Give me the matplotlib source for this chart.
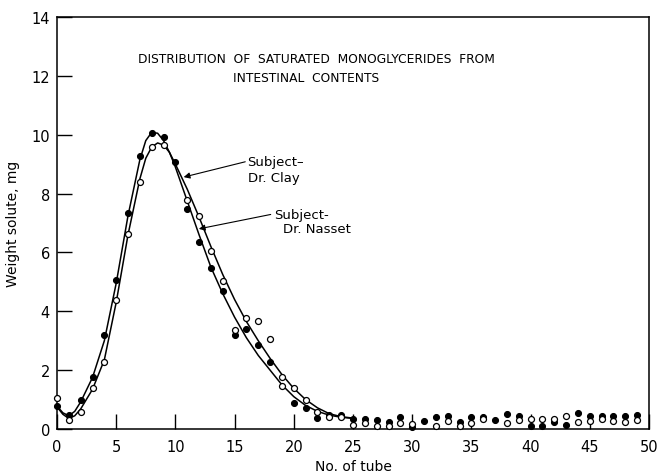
import matplotlib
matplotlib.use("Agg")
import matplotlib.pyplot as plt

# tube numbers and weights (mg)
# filled circles - Dr. Nasset
nasset_tube = [0, 1, 2, 3, 4, 5, 6, 7, 8, 9, 10, 11, 12, 13, 14, 15, 16, 17, 18,
               20, 21, 22, 23, 24, 25, 26, 27, 28, 29, 30, 31, 32, 33, 34, 35,
               36, 37, 38, 39, 40, 41, 42, 43, 44, 45, 46, 47, 48, 49]
nasset_wt = [0.79, 0.47, 0.99, 1.77, 3.19, 5.06, 7.34, 9.27, 10.05, 9.91, 9.06,
             7.48, 6.37, 5.46, 4.69, 3.19, 3.40, 2.86, 2.28,
             0.90, 0.70, 0.36, 0.47, 0.47, 0.34, 0.33, 0.31, 0.23, 0.42, 0.06,
             0.28, 0.40, 0.43, 0.23, 0.42, 0.42, 0.31, 0.51, 0.43, 0.11, 0.11,
             0.25, 0.14, 0.54, 0.43, 0.45, 0.45, 0.45, 0.47]

# open circles - Dr. Clay
clay_tube = [0, 1, 2, 3, 4, 5, 6, 7, 8, 9, 11, 12, 13, 14, 15, 16, 17, 18, 19, 19,
             20, 21, 22, 23, 24, 25, 26, 27, 28, 29, 30, 32, 33, 34, 35, 36,
             38, 39, 40, 41, 42, 43, 44, 45, 46, 47, 48, 49]
clay_wt = [1.07, 0.32, 0.59, 1.41, 2.29, 4.37, 6.63, 8.40, 9.57, 9.65, 7.77,
           7.25, 6.05, 5.03, 3.36, 3.76, 3.67, 3.07, 1.77, 1.47,
           1.39, 0.99, 0.59, 0.40, 0.42, 0.15, 0.19, 0.09, 0.10, 0.20, 0.17,
           0.11, 0.28, 0.11, 0.19, 0.34, 0.20, 0.32, 0.34, 0.34, 0.34, 0.45,
           0.23, 0.28, 0.34, 0.26, 0.25, 0.32]

# hand drawn curves, read at knots
curve_x = [0, 0.5, 1, 1.5, 2, 3, 4, 5, 6, 7, 7.5, 8, 8.5, 9, 9.5, 10, 11, 12,
           13, 14, 15, 16, 17, 18, 19, 20, 21, 22, 23, 24, 25]
nasset_curve = [0.78, 0.55, 0.45, 0.6, 0.92, 1.75, 3.0, 4.95, 7.25, 9.15, 9.8,
                10.08, 10.05, 9.8, 9.4, 8.9, 7.75, 6.6, 5.5, 4.6, 3.8, 3.1, 2.5,
                2.0, 1.5, 1.1, 0.8, 0.6, 0.47, 0.4, 0.36]
clay_curve = [0.75, 0.5, 0.36, 0.45, 0.68, 1.35, 2.35, 4.3, 6.6, 8.5, 9.2, 9.58,
              9.72, 9.65, 9.4, 9.0, 8.15, 7.2, 6.2, 5.25, 4.4, 3.65, 3.0, 2.4,
              1.85, 1.38, 1.0, 0.72, 0.52, 0.42, 0.37]

x_ticks = list(range(0, 51, 5))
y_ticks = list(range(0, 15, 2))

fig = plt.figure(figsize=(6.58, 4.77), dpi=100)
ax = fig.add_axes([0.0866, 0.0985, 0.8997, 0.8638])

ax.plot(curve_x, nasset_curve, color="black", lw=1.1)
ax.plot(curve_x, clay_curve, color="black", lw=1.1)
ax.plot(nasset_tube, nasset_wt, "o", ms=4.3, mfc="black", mec="black", mew=0.8,
        clip_on=False, zorder=3)
ax.plot(clay_tube, clay_wt, "o", ms=4.3, mfc="white", mec="black", mew=0.9,
        clip_on=False, zorder=3)

ax.set_xlim(0, 50)
ax.set_ylim(0, 14)
ax.set_xticks(x_ticks)
ax.set_yticks(y_ticks)
ax.tick_params(direction="in", length=11, width=1.0, labelsize=10.5, pad=5)
ax.tick_params(axis="x", pad=7)
for s in ax.spines.values():
    s.set_linewidth(1.1)

ax.set_xlabel("No. of tube", fontsize=10)
ax.set_ylabel("Weight solute, mg", fontsize=10, labelpad=8)

ax.text(21.9, 12.6, "DISTRIBUTION  OF  SATURATED  MONOGLYCERIDES  FROM",
        ha="center", va="center", fontsize=8.8)
ax.text(21.0, 11.93, "INTESTINAL  CONTENTS", ha="center", va="center", fontsize=8.8)

arrow = dict(arrowstyle="-|>", color="black", lw=0.8, mutation_scale=9,
             shrinkA=0, shrinkB=0)
ax.annotate("", xy=(10.7, 8.56), xytext=(15.9, 9.08), arrowprops=arrow)
ax.text(16.1, 9.08, "Subject\u2013", ha="left", va="center", fontsize=9.5)
ax.text(16.1, 8.54, "Dr. Clay", ha="left", va="center", fontsize=9.5)

ax.annotate("", xy=(11.98, 6.8), xytext=(18.05, 7.29), arrowprops=arrow)
ax.text(18.3, 7.29, "Subject-", ha="left", va="center", fontsize=9.5)
ax.text(19.1, 6.81, "Dr. Nasset", ha="left", va="center", fontsize=9.5)

fig.savefig("out.png", dpi=100)
